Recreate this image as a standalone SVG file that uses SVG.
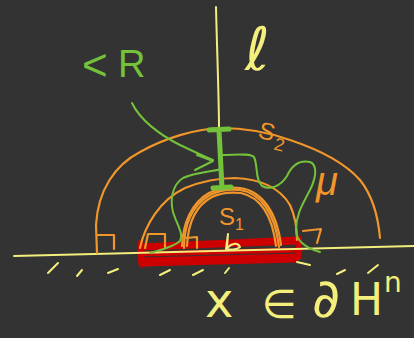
<svg xmlns="http://www.w3.org/2000/svg" width="414" height="338" viewBox="0 0 414 338">
<style>
.y{stroke:#f4ee7c;fill:none;stroke-width:2;stroke-linecap:round;stroke-linejoin:round}
.o{stroke:#f1962b;fill:none;stroke-width:2.2;stroke-linecap:round;stroke-linejoin:round}
.g{stroke:#74c23a;fill:none;stroke-width:2;stroke-linecap:round;stroke-linejoin:round}
.gb{stroke:#74c23a;fill:none;stroke-width:5;stroke-linecap:round}
.r{stroke:#cc0000;fill:none;stroke-width:5;stroke-linecap:round;stroke-linejoin:round}
.ty{fill:#f4ee7c;font-family:"DejaVu Sans",sans-serif}
.to{fill:#f1962b;font-family:"Liberation Sans",sans-serif}
.tg{fill:#74c23a;font-family:"Liberation Sans",sans-serif}
</style>
<rect width="414" height="338" fill="#333333"/>
<g id="region">
<path class="r" fill="#cc0000" d="M140,246 L299,239 L299,257 L141,264 Z"/>
<path class="r" d="M140,248 L298,242 M140,254 L300,250 M140,260 L297,256 M142,264 L295,260 M140,243 L142,265 M299,238 L298,258"/>
</g>
<g id="axes">
<path class="y" d="M216,7 C217,50 219,100 219,128"/>
<path class="y" d="M14,256 L414,246"/>
<path class="y" d="M48,273 L58,263 M77,276 L82,270 M108,273 L118,269 M160,275 L170,270 M193,275 L203,270 M225,273 L229,268 M297,262 L310,265 M337,274 L345,270 M368,273 L378,265"/>
<path class="y" stroke-width="3" fill="#f4ee7c" d="M228,234 L227,248 C232,243 238,242 240,247 C237,250 230,250 226,249 Z"/>
</g>
<g id="S2">
<path class="o" d="M97,253 L96,225 C98,190 115,165 140,152 C165,138 195,129 220,128 C245,128 265,131 290,140 C320,150 345,163 360,180 C372,195 378,215 380,238"/>
<path class="o" d="M97,235 L114,235 L114,249 M303,231 L321,229 L317,243"/>
</g>
<g id="middle">
<path class="o" d="M140,248 C145,225 160,200 185,188 C205,180 220,178 235,178 C260,179 280,188 290,205 C296,218 297,230 297,240"/>
<path class="o" d="M145,248 L148,234 L165,234 L165,248"/>
</g>
<g id="S1">
<path class="o" d="M184,248 C184,225 192,205 210,195 C220,190 230,189 240,190 C260,193 275,212 279,247"/>
<path class="o" d="M187,246 C188,224 195,206 212,197 C222,192 232,192 241,193 C259,197 272,214 276,246"/>
<path class="o" d="M182,246 C183,224 191,203 209,193 C219,188 230,187 240,188 C262,191 277,212 281,245"/>
<path class="o" d="M186,238 L197,237 L197,248"/>
</g>
<g id="U">
<path class="g" d="M222,155 C235,155 250,153 254,157 C258,165 255,180 262,186 C270,190 280,187 287,176 C292,165 300,160 310,162 C318,165 316,178 310,190 C302,205 296,215 296,230 C296,240 305,248 320,252"/>
<path class="g" d="M222,169 C210,172 195,172 183,178 C172,185 170,200 173,212 C177,225 184,234 180,241 C174,247 160,250 150,253"/>
</g>
<g id="connectors">
<path class="gb" d="M219,130 L222,188 M209,130 L229,129 M213,188 L231,187"/>
<path class="g" d="M132,103 C140,120 160,135 180,145 C195,152 205,157 213,160 M197,155 L213,161 L195,170"/>
</g>
<g id="labels">
<text class="ty" x="245" y="70" font-size="60" font-style="italic" font-weight="300">ℓ</text>
<text class="tg" x="82" y="80" font-size="44">&lt;</text>
<text class="tg" x="118" y="77" font-size="38">R</text>
<text class="to" x="258" y="140" font-size="24" transform="rotate(15 268 135)">S</text>
<text class="to" x="274" y="151" font-size="18" transform="rotate(15 280 146)">2</text>
<text class="to" x="316" y="195" font-size="40" font-style="italic">μ</text>
<text class="to" x="219" y="225" font-size="24">S</text>
<text class="to" x="235" y="230" font-size="16">1</text>
<text class="ty" x="205" y="317" font-size="48">x</text>
<text class="ty" x="262" y="318" font-size="40">∈</text>
<text class="ty" x="312" y="317" font-size="54">∂</text>
<text class="ty" x="350" y="315" font-size="44">H</text>
<text class="ty" x="384" y="292" font-size="28">n</text>
</g>
</svg>
